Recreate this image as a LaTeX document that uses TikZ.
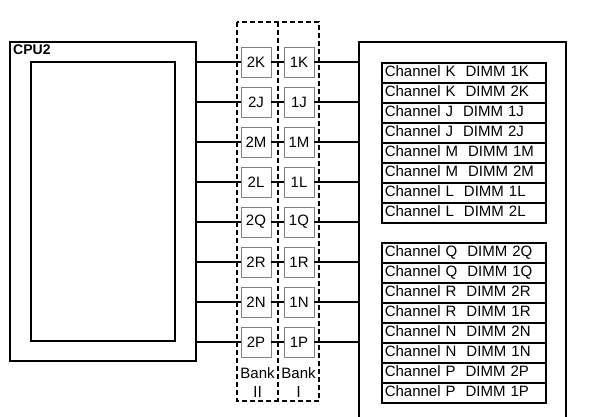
\documentclass[tikz,border=0pt]{standalone}
\usepackage{fontspec}
\setmainfont{Liberation Sans}
\newfontfamily\jpfont{Noto Sans CJK JP}
\usetikzlibrary{positioning, matrix}

\begin{document}
\begin{tikzpicture}[x=1pt, y=-1pt,
    font=\fontsize{15}{18}\selectfont,
    frame/.style={draw=black, line width=1.4pt, outer sep=0pt, inner sep=0pt},
    wire/.style={draw=black, line width=2.4pt},
    bank/.style={outer sep=0pt, inner sep=0pt, minimum width=41pt, minimum height=379pt},
    bankline/.style={draw=black, line width=1.2pt, dash pattern=on 5pt off 3pt},
    dimm/.style={draw=black!50, fill=white, line width=0.9pt, minimum size=30pt, inner sep=0pt},
    chan/.style={draw=black, line width=1.5pt, minimum width=164pt, minimum height=20pt, text width=158pt, inner sep=3pt, outer sep=0pt, align=left, text height=11pt, text depth=3pt}]
    \useasboundingbox (0,0) rectangle (600,417);

    % CPU side
    \node[frame, anchor=north west, minimum width=186pt, minimum height=319pt] (cpu) at (10,42) {};
    \node[frame, minimum width=144pt, minimum height=279pt] (die) at (cpu.center) {};
    \node[anchor=north west, inner sep=3pt, font=\fontsize{14}{16}\selectfont\bfseries] (cpulabel) at (cpu.north west) {CPU2};

    % memory side
    \node[frame, anchor=north west, minimum width=207pt, minimum height=420pt] (mem) at (359,42) {};

    % banks
    \node[bank, anchor=north west] (bank2) at (237,22) {};
    \node[bank, right=0pt of bank2] (bank1) {};
    \draw[bankline] (bank2.north west) rectangle (bank1.south east)
                    (bank2.north east) -- (bank2.south east);
    \node[anchor=south, align=center, inner sep=3pt] (lab2) at (bank2.south) {Bank\\[1pt]{\jpfont Ⅱ}};
    \node[anchor=south, align=center, inner sep=3pt] (lab1) at (bank1.south) {Bank\\[1pt]{\jpfont Ⅰ}};

    % slots and wires
    \foreach \ch [count=\i from 0] in {K,J,M,L,Q,R,N,P} {
        \node[dimm] (b2\ch) at (256,{62+40*\i}) {2\ch};
        \node[dimm] (b1\ch) at (299,{62+40*\i}) {1\ch};
        \draw[wire] (cpu.east |- b2\ch.west) -- (b2\ch.west)
                    (b2\ch.east) -- (b1\ch.west)
                    (b1\ch.east) -- (mem.west |- b1\ch.east);
    }

    % channel tables
    \matrix[matrix of nodes, nodes={chan}, row sep=-1.5pt, inner sep=0pt, outer sep=0pt, anchor=north west] (tabA) at (381,62) {
        Channel K\ \ DIMM 1K \\
        Channel K\ \ DIMM 2K \\
        Channel J\ \ DIMM 1J \\
        Channel J\ \ DIMM 2J \\
        Channel M\ \ DIMM 1M \\
        Channel M\ \ DIMM 2M \\
        Channel L\ \ DIMM 1L \\
        Channel L\ \ DIMM 2L \\
    };
    \matrix[matrix of nodes, nodes={chan}, row sep=-1.5pt, inner sep=0pt, outer sep=0pt, anchor=north west] (tabB) at (381,242) {
        Channel Q\ \ DIMM 2Q \\
        Channel Q\ \ DIMM 1Q \\
        Channel R\ \ DIMM 2R \\
        Channel R\ \ DIMM 1R \\
        Channel N\ \ DIMM 2N \\
        Channel N\ \ DIMM 1N \\
        Channel P\ \ DIMM 2P \\
        Channel P\ \ DIMM 1P \\
    };
\end{tikzpicture}
\end{document}
